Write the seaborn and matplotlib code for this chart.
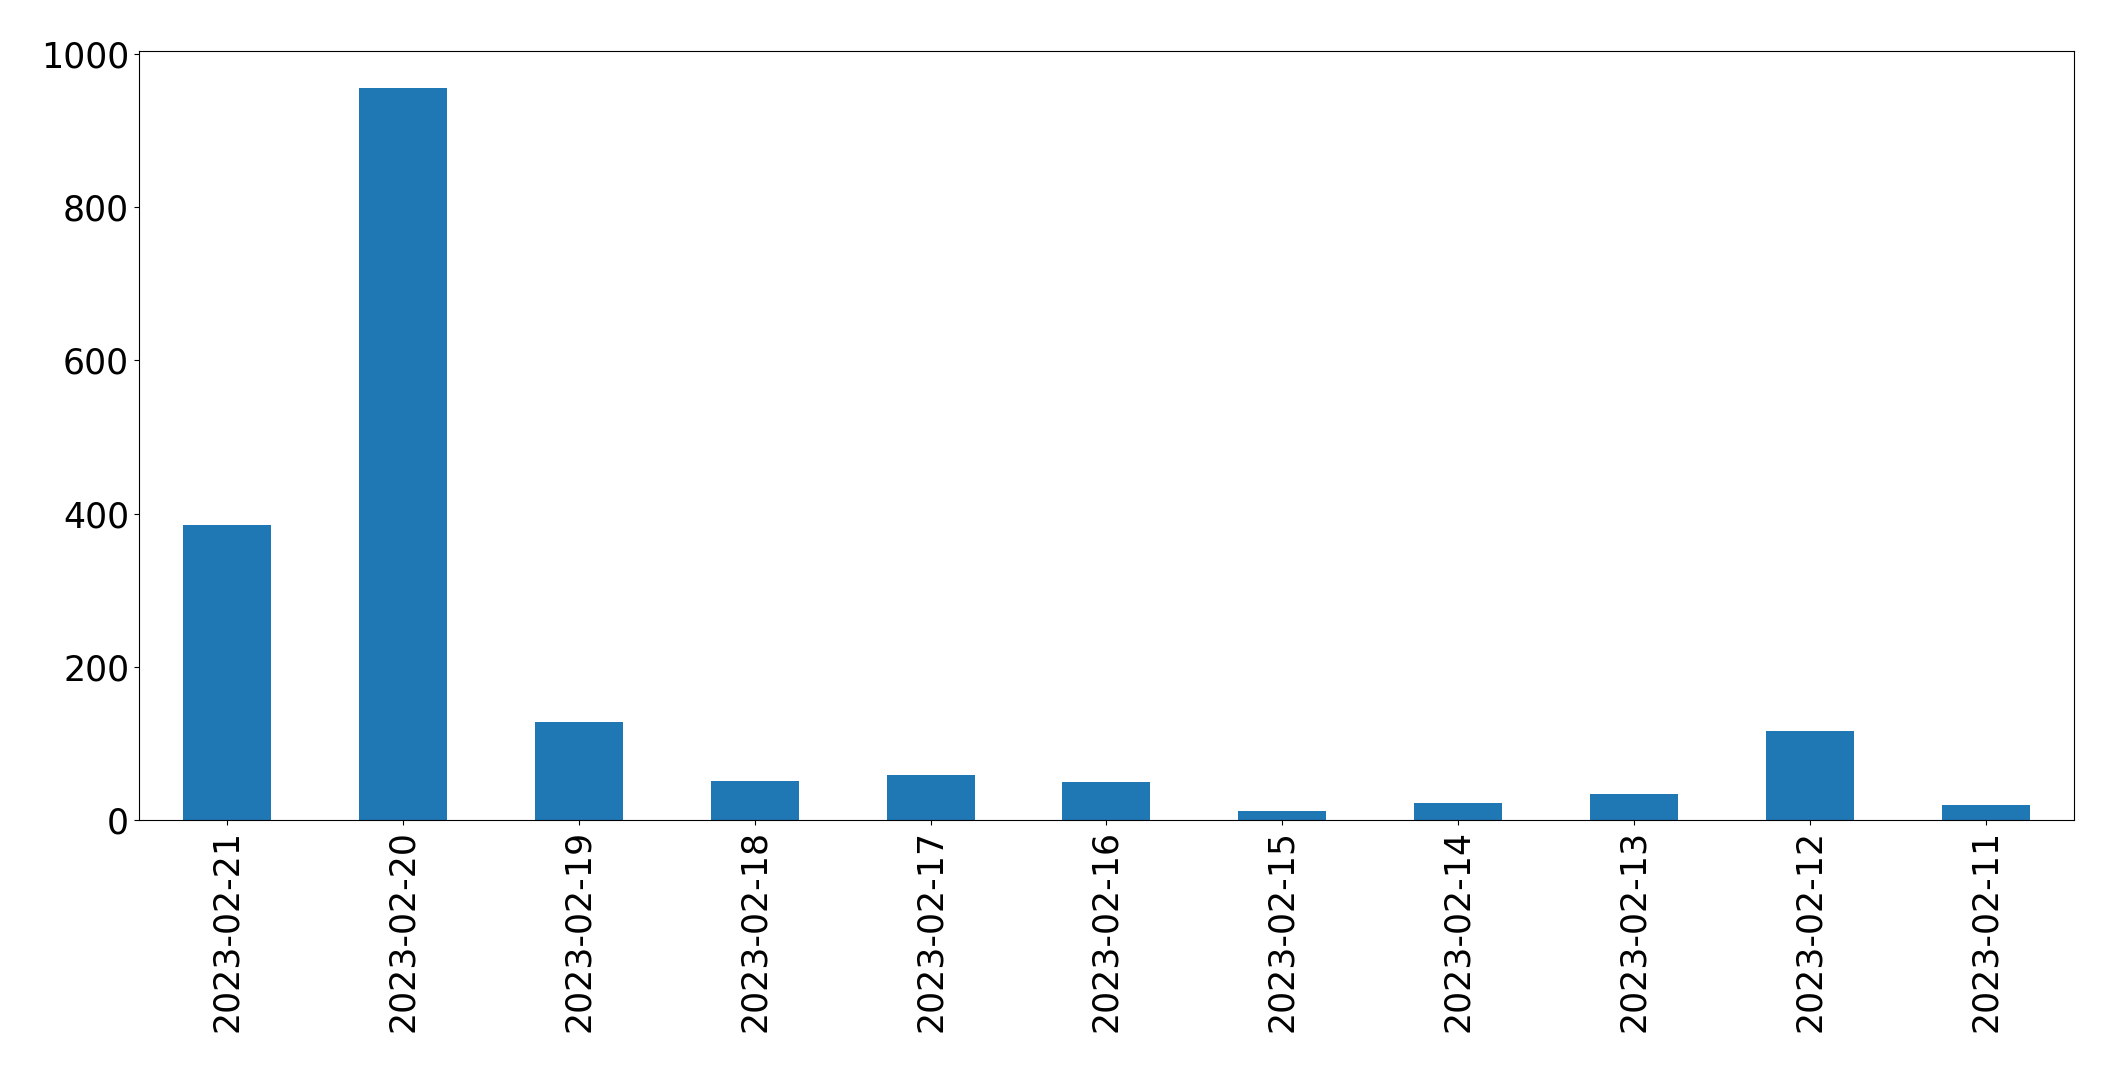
import matplotlib
matplotlib.use("Agg")
import matplotlib.pyplot as plt
import seaborn as sns
import pandas as pd

dates = ["2023-02-21", "2023-02-20", "2023-02-19", "2023-02-18", "2023-02-17",
         "2023-02-16", "2023-02-15", "2023-02-14", "2023-02-13", "2023-02-12",
         "2023-02-11"]
counts = [385, 956, 128, 51, 59, 50, 12, 22, 34, 116, 20]

df = pd.DataFrame({"date": dates, "count": counts})

fig = plt.figure(figsize=(21.15, 10.72), dpi=100)
ax = fig.add_axes([0.0657, 0.235, 0.9806 - 0.0657, 0.9524 - 0.235])
sns.barplot(data=df, x="date", y="count", order=dates, color="#1f77b4",
            saturation=1, width=0.5, ax=ax, errorbar=None)
ax.set_xlim(-0.5, len(dates) - 0.5)
ax.set_ylim(0, max(counts) * 1.05)
ax.set_xlabel("")
ax.set_ylabel("")
ax.tick_params(axis="both", labelsize=25)
ax.tick_params(axis="x", labelrotation=90)
fig.savefig("out.png", dpi=100)
